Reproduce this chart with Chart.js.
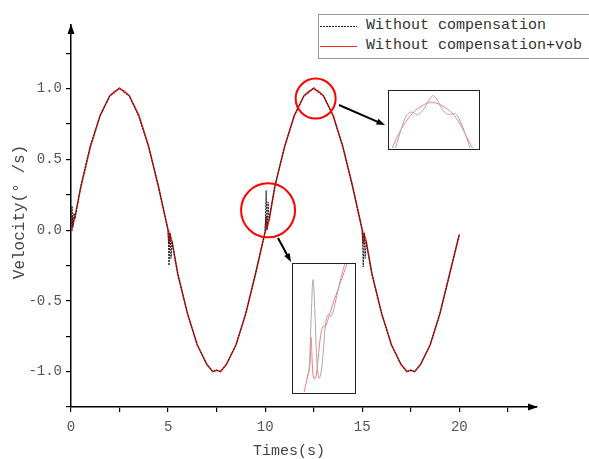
<!DOCTYPE html>
<html>
<head>
<meta charset="utf-8">
<script src="https://cdn.jsdelivr.net/npm/chart.js@4.4.1/dist/chart.umd.min.js"></script>
<style>
  body { margin: 0; background: #fff; }
  #wrap { position: relative; width: 589px; height: 459px; overflow: hidden; }
  #main { position: absolute; left: 0; top: 0; }
  .inset { position: absolute; border: 1.5px solid #222; background: #fff; box-sizing: border-box; }
  .inset canvas { display: block; }
  #legend {
    position: absolute; left: 318px; top: 14px; width: 272px; height: 45px;
    border: 1px solid #999; box-sizing: border-box; background: #fff;
    font: 15px "Liberation Mono", monospace; color: #333;
  }
  .row { position: absolute; left: 0; height: 18px; width: 100%; }
  .row .sample { position: absolute; left: 1px; top: 9px; width: 37px; height: 1px; }
  .row .label { position: absolute; left: 47px; top: 0; line-height: 18px; white-space: nowrap; }
</style>
</head>
<body>
<div id="wrap">
  <canvas id="main" width="589" height="459"></canvas>
  <div class="inset" style="left:388px;top:90px;width:92px;height:60px;">
    <canvas id="inset1" width="89" height="57"></canvas>
  </div>
  <div class="inset" style="left:292px;top:263px;width:64px;height:131px;">
    <canvas id="inset2" width="61" height="128"></canvas>
  </div>
  <div id="legend"></div>
</div>

<script>
// Main series: time (s) and velocity
const tBlack = [0, 0.05, 0.1, 0.15, 0.2, 0.5, 1, 1.5, 2, 2.25, 2.5, 2.75, 3, 3.5, 4, 4.5,
  5, 5.05, 5.1, 5.15, 5.2, 5.5, 6, 6.5, 7, 7.3, 7.5, 7.7, 8, 8.5, 9, 9.5,
  10, 10.05, 10.1, 10.15, 10.2, 10.5, 11, 11.5, 12, 12.25, 12.5, 12.75, 13, 13.5, 14, 14.5,
  15, 15.05, 15.1, 15.15, 15.2, 15.5, 16, 16.5, 17, 17.3, 17.5, 17.7, 18, 18.5, 19, 19.5, 20];
const vBlack = [0.00, 0.17, 0.02, 0.12, 0.08, 0.31, 0.60, 0.81, 0.95, 0.97, 1.01, 0.97, 0.95, 0.80, 0.59, 0.31,
  0.00, -0.25, -0.02, -0.20, -0.08, -0.31, -0.59, -0.81, -0.95, -1.00, -0.99, -1.00, -0.95, -0.81, -0.59, -0.31,
  -0.01, 0.28, 0.00, 0.20, 0.07, 0.31, 0.59, 0.81, 0.95, 0.97, 1.01, 0.97, 0.95, 0.81, 0.59, 0.31,
  0.00, -0.26, -0.02, -0.20, -0.08, -0.31, -0.59, -0.81, -0.95, -1.00, -0.99, -1.00, -0.95, -0.81, -0.59, -0.31, -0.03];

const tRed = [0, 0.05, 0.1, 0.2, 0.5, 1, 1.5, 2, 2.25, 2.5, 2.75, 3, 3.5, 4, 4.5,
  5, 5.05, 5.1, 5.2, 5.5, 6, 6.5, 7, 7.3, 7.5, 7.7, 8, 8.5, 9, 9.5,
  10, 10.05, 10.1, 10.2, 10.5, 11, 11.5, 12, 12.25, 12.5, 12.75, 13, 13.5, 14, 14.5,
  15, 15.05, 15.1, 15.2, 15.5, 16, 16.5, 17, 17.3, 17.5, 17.7, 18, 18.5, 19, 19.5, 20];
const vRed = [0.00, 0.10, 0.04, 0.09, 0.30, 0.59, 0.81, 0.95, 0.98, 1.00, 0.98, 0.95, 0.81, 0.59, 0.31,
  0.00, -0.10, -0.03, -0.08, -0.31, -0.59, -0.81, -0.95, -1.00, -0.99, -1.00, -0.95, -0.81, -0.59, -0.31,
  -0.01, 0.10, 0.02, 0.07, 0.31, 0.59, 0.81, 0.95, 0.98, 1.00, 0.98, 0.95, 0.81, 0.59, 0.31,
  0.00, -0.10, -0.03, -0.08, -0.31, -0.59, -0.81, -0.95, -1.00, -0.99, -1.00, -0.95, -0.81, -0.59, -0.31, -0.03];

const seriesNames = ["Without compensation", "Without compensation+vob"];
const xTitle = "Times(s)";
const yTitle = "Velocity(° /s)";

// Tick positions (labelled every 5 s and every 0.5)
const xTicks = [0, 2.5, 5, 7.5, 10, 12.5, 15, 17.5, 20, 22.5];
const yTicks = [-1.25, -1, -0.75, -0.5, -0.25, 0, 0.25, 0.5, 0.75, 1, 1.25];

// Zoomed views (inset units 0..100)
const in1GrayX = [7.3, 12.7, 18.2, 22.9, 27.3, 31.6, 38.2, 44.7, 49.1, 53.5, 58.2, 63.6, 69.1, 74.5, 80, 86.2, 90.9];
const in1GrayY = [0, 27.8, 52.8, 62.2, 62.2, 58.3, 66.7, 83.3, 91.7, 86.1, 72.2, 61.1, 58.9, 60, 47.2, 22.2, 0];
const in1RedX = [3.6, 10.9, 18.2, 27.3, 36.4, 45.5, 52.7, 61.8, 70.9, 80, 87.3, 93.8];
const in1RedY = [0, 25, 44.4, 62.2, 73.3, 80, 78.9, 72.2, 61.1, 41.7, 19.4, 0];

const in2GrayX = [22.4, 26, 29.7, 32.8, 35.9, 39, 42.2, 45.3, 49.5, 53.6, 57.8, 63, 70.3, 78.1, 84.9];
const in2GrayY = [10.7, 15.8, 56.6, 87.8, 61.7, 26, 10.7, 13.3, 31.1, 54.1, 60.5, 59.2, 71.9, 88.5, 100];
const in2RedX = [18.2, 24.5, 27.6, 29.7, 31.8, 33.9, 37, 41.1, 45.3, 49.5, 53.6, 58.9, 67.7, 78.1, 88.5];
const in2RedY = [0, 13.3, 20.9, 42.6, 20.9, 10.7, 10.7, 26, 43.9, 51.5, 51.5, 59.2, 71.9, 86, 100];

// Red circles marking the zoomed spots: centre in data units, radius in px
const zoomMarks = [
  { t: 12.6, v: 0.93, r: 20 },
  { t: 10.15, v: 0.14, r: 27 }
];

const toPoints = (xs, ys) => xs.map((x, i) => ({ x: x, y: ys[i] }));
const FONT = '"Liberation Mono", monospace';

function drawArrow(ctx, x1, y1, x2, y2) {
  const ang = Math.atan2(y2 - y1, x2 - x1);
  const len = 9;
  ctx.beginPath();
  ctx.moveTo(x1, y1);
  ctx.lineTo(x2 - Math.cos(ang) * len * 0.8, y2 - Math.sin(ang) * len * 0.8);
  ctx.stroke();
  ctx.beginPath();
  ctx.moveTo(x2, y2);
  ctx.lineTo(x2 - len * Math.cos(ang - 0.35), y2 - len * Math.sin(ang - 0.35));
  ctx.lineTo(x2 - len * Math.cos(ang + 0.35), y2 - len * Math.sin(ang + 0.35));
  ctx.closePath();
  ctx.fill();
}

const overlay = {
  id: "overlay",
  afterDraw(chart) {
    const { ctx, chartArea: a, scales } = chart;
    ctx.save();
    // axis arrow heads
    ctx.fillStyle = "#000";
    ctx.beginPath();
    ctx.moveTo(a.left, a.top - 1);
    ctx.lineTo(a.left - 3.5, a.top + 9);
    ctx.lineTo(a.left + 3.5, a.top + 9);
    ctx.closePath();
    ctx.fill();
    ctx.beginPath();
    ctx.moveTo(a.right + 1, a.bottom);
    ctx.lineTo(a.right - 9, a.bottom - 3.5);
    ctx.lineTo(a.right - 9, a.bottom + 3.5);
    ctx.closePath();
    ctx.fill();

    // axis titles (the original sits a little left of / above centre)
    ctx.fillStyle = "#444";
    ctx.textAlign = "center";
    ctx.textBaseline = "middle";
    ctx.font = "15px " + FONT;
    ctx.fillText(xTitle, 289, 451);
    ctx.save();
    ctx.translate(20, 212);
    ctx.rotate(-Math.PI / 2);
    ctx.font = "16px " + FONT;
    ctx.fillText(yTitle, 0, 0);
    ctx.restore();

    // circles
    ctx.strokeStyle = "#f00";
    ctx.lineWidth = 2;
    zoomMarks.forEach((m) => {
      ctx.beginPath();
      ctx.arc(scales.x.getPixelForValue(m.t), scales.y.getPixelForValue(m.v), m.r, 0, Math.PI * 2);
      ctx.stroke();
    });

    // pointers to the insets
    ctx.strokeStyle = "#000";
    ctx.fillStyle = "#000";
    ctx.lineWidth = 2;
    drawArrow(ctx, 339, 105, 385, 125);
    drawArrow(ctx, 278, 238, 291, 262);
    ctx.restore();
  }
};

new Chart(document.getElementById("main"), {
  type: "line",
  data: {
    datasets: [
      {
        label: seriesNames[0],
        data: toPoints(tBlack, vBlack),
        borderColor: "#1a1a1a",
        borderWidth: 1,
        borderDash: [2, 1],
        pointRadius: 0,
        tension: 0
      },
      {
        label: seriesNames[1],
        data: toPoints(tRed, vRed),
        borderColor: "#ec2520",
        borderWidth: 1.6,
        pointRadius: 0,
        tension: 0
      }
    ]
  },
  options: {
    responsive: false,
    animation: false,
    events: [],
    layout: { padding: { top: 25, right: 52, left: 0, bottom: 0 } },
    plugins: { legend: { display: false }, tooltip: { enabled: false } },
    scales: {
      x: {
        type: "linear",
        min: 0,
        max: 24,
        afterBuildTicks: (s) => { s.ticks = xTicks.map((v) => ({ value: v })); },
        afterFit: (s) => { s.height = 52; },
        ticks: {
          autoSkip: false,
          maxRotation: 0,
          padding: 7,
          color: "#555",
          font: { family: FONT, size: 14 },
          callback: (v) => (v % 5 === 0 ? String(v) : "")
        },
        grid: { drawOnChartArea: false, tickLength: 5, color: "#000", lineWidth: 1.2 },
        border: { color: "#000", width: 1.5 }
      },
      y: {
        min: -1.25,
        max: 1.45,
        afterBuildTicks: (s) => { s.ticks = yTicks.map((v) => ({ value: v })); },
        afterFit: (s) => { s.width = 71; },
        ticks: {
          autoSkip: false,
          padding: 4,
          color: "#555",
          font: { family: FONT, size: 14 },
          callback: (v) => (Math.abs(v * 2 - Math.round(v * 2)) < 1e-6 ? v.toFixed(1) : "")
        },
        grid: { drawOnChartArea: false, tickLength: 5, color: "#000", lineWidth: 1.2 },
        border: { color: "#000", width: 1.5 }
      }
    }
  },
  plugins: [overlay]
});

function insetChart(id, grayPts, redPts) {
  new Chart(document.getElementById(id), {
    type: "line",
    data: {
      datasets: [
        { data: grayPts, borderColor: "#a9a9a9", borderWidth: 1, pointRadius: 0, tension: 0.4 },
        { data: redPts, borderColor: "#ff7a7a", borderWidth: 1, pointRadius: 0, tension: 0.4 }
      ]
    },
    options: {
      responsive: false,
      animation: false,
      events: [],
      layout: { padding: 0 },
      plugins: { legend: { display: false }, tooltip: { enabled: false } },
      scales: {
        x: { type: "linear", min: 0, max: 100, display: false },
        y: { min: 0, max: 100, display: false }
      }
    }
  });
}
insetChart("inset1", toPoints(in1GrayX, in1GrayY), toPoints(in1RedX, in1RedY));
insetChart("inset2", toPoints(in2GrayX, in2GrayY), toPoints(in2RedX, in2RedY));

// Legend built from the series names
const legend = document.getElementById("legend");
const samples = [
  "background: repeating-linear-gradient(to right, #222 0 2px, transparent 2px 3px);",
  "background: #ec2520;"
];
seriesNames.forEach((name, i) => {
  const row = document.createElement("div");
  row.className = "row";
  row.style.top = (i === 0 ? 2 : 22) + "px";
  row.innerHTML = '<span class="sample" style="' + samples[i] + '"></span><span class="label">' + name + "</span>";
  legend.appendChild(row);
});
</script>
</body>
</html>
